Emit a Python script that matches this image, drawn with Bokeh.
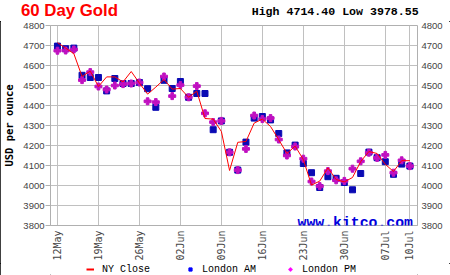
import math
from bokeh.plotting import figure
from bokeh.layouts import column
from bokeh.models import Range1d, FixedTicker, LinearAxis, Label, Legend, LegendItem, Div
from bokeh.embed import file_html
from bokeh.resources import INLINE

# ---- data (weekday index 0 = 12 May) ----
tick_labels = ["12May", "19May", "26May", "02Jun", "09Jun", "16Jun", "23Jun", "30Jun", "07Jul", "10Jul"]
tick_days = [0, 5, 10, 15, 20, 25, 30, 35, 40, 43]

ny_close = [4714.40, 4687, 4659, 4545, 4572, 4495, 4543, 4543, 4518, 4570,
            4512, 4457, 4492, 4530, 4482, 4485, 4441, 4472, 4335, 4332,
            4270, 4075, 4216, 4220, 4312, 4332, 4295, 4229, 4160, 4197,
            4130, 4002, 4022, 4088, 4030, 4018, 4040, 4120, 4170, 4160,
            4106, 4070, 4124, 4124]
london_am = [4697, 4684, 4687, 4551, 4540, 4540, 4473, 4535, 4510, 4510,
             4515, 4484, 4391, 4526, 4485, 4520, 4441, 4460, 4460, 4279,
             4323, 4166, 4077, 4217, 4337, 4345, 4328, 4260, 4163, 4202,
             4110, 4064, 3990, 4044, 4036, 4015, 3978.55, 4060, 4167, 4139,
             4119, 4056, 4107, 4097]
london_pm = [4674, 4675, 4680, 4527, 4567, 4495, 4480, 4500, 4507, 4510,
             4515, 4421, 4417, 4545, 4447, 4502, 4441, 4497, 4361, 4317,
             4323, 4166, 4077, 4183, 4350, 4332, 4337, 4230, 4150, 4195,
             4134, 4020, 3997, 4072, 4026, 4023, 4084, 4121, 4164, 4138,
             4153, 4064, 4126, 4097]
days = list(range(len(ny_close)))
y_ticks = list(range(3800, 4801, 100))

title_text = "60 Day Gold"
hilo_text = "High 4714.40 Low 3978.55"
site_text = "www.kitco.com"
legend_labels = ["NY Close", "London AM", "London PM"]

GRID = "#c0c0c0"
FRAME = "#b0b0b0"
LABEL = "#444444"
RED = "#ff0000"
BLUE = "#0a0ab4"
MAG = "#c010c0"
NAN = float("nan")

HEAD_H = 21
TOP_B = 4
FRAME_H = 202
BOT_B = 36
FOOT_H = 275 - HEAD_H - TOP_B - FRAME_H - BOT_B

# ---- header strip (title + high/low) ----
# title anchored by its right end (x = 118), high/low by its left end (x = 251.7)
title_style = ("position:absolute;display:block;margin:0;padding:0;right:332px;top:3.4px;"
               "white-space:nowrap;text-align:right;font-family:'Liberation Sans',Arial,sans-serif;"
               "font-weight:bold;font-size:16.8px;line-height:16.8px;color:#ff0000;")
hilo_style = ("position:absolute;display:block;margin:0;padding:0;left:251.7px;top:6.1px;"
              "white-space:nowrap;text-align:left;font-family:'Liberation Mono',monospace;"
              "font-weight:bold;font-size:11.6px;line-height:11.6px;color:#000000;")
head_html = (
    '<div style="position:relative;margin:0;padding:0;width:450px;height:%dpx;">'
    '<div style="%s">%s</div>'
    '<div style="%s">%s</div>'
    '</div>' % (HEAD_H, title_style, title_text, hilo_style, hilo_text)
)
head = Div(text=head_html, width=450, height=HEAD_H, margin=0,
           styles={"background-color": "white"})

# ---- main chart ----
p = figure(width=450, height=TOP_B + FRAME_H + BOT_B, output_backend="svg", toolbar_location=None,
           title=None,
           x_range=Range1d(-0.85, 43.93), y_range=Range1d(3800, 4800),
           min_border_left=48, min_border_right=33, min_border_top=TOP_B, min_border_bottom=BOT_B)
p.background_fill_color = "white"
p.border_fill_color = "white"
p.outline_line_color = FRAME

# x axis
xa = p.xaxis[0]
xa.ticker = FixedTicker(ticks=tick_days)
xa.major_label_overrides = {d: l for d, l in zip(tick_days, tick_labels)}
xa.major_label_orientation = math.pi / 2
xa.major_label_text_font = "DejaVu Sans Mono"
xa.major_label_text_font_size = "10px"
xa.major_label_text_color = LABEL
xa.major_label_standoff = 5
xa.major_tick_out = 0
xa.major_tick_in = 0
xa.minor_tick_out = 0
xa.minor_tick_in = 0
xa.axis_line_color = FRAME

# left y axis
ya = p.yaxis[0]
ya.ticker = FixedTicker(ticks=y_ticks)
ya.major_label_text_font = "Liberation Sans"
ya.major_label_text_font_size = "9.5px"
ya.major_label_text_color = LABEL
ya.major_label_standoff = 1
ya.major_tick_out = 5
ya.major_tick_in = 0
ya.major_tick_line_color = FRAME
ya.minor_tick_out = 0
ya.minor_tick_in = 0
ya.axis_line_color = FRAME
ya.axis_label = "USD per ounce"
ya.axis_label_text_font = "DejaVu Sans Mono"
ya.axis_label_text_font_style = "bold"
ya.axis_label_text_font_size = "10.5px"
ya.axis_label_text_color = "black"
ya.axis_label_standoff = 5

# right y axis
ra = LinearAxis(ticker=FixedTicker(ticks=y_ticks))
ra.major_label_text_font = "Liberation Sans"
ra.major_label_text_font_size = "9.5px"
ra.major_label_text_color = LABEL
ra.major_label_standoff = 4
ra.major_tick_out = 0
ra.major_tick_in = 0
ra.minor_tick_out = 0
ra.minor_tick_in = 0
ra.axis_line_color = None
p.add_layout(ra, "right")

p.xgrid.ticker = FixedTicker(ticks=tick_days)
p.ygrid.ticker = FixedTicker(ticks=y_ticks)
p.xgrid.grid_line_color = GRID
p.ygrid.grid_line_color = GRID

# data glyphs
p.scatter(days, london_am, marker="square", size=6, fill_color=BLUE, line_color=BLUE)
p.scatter(days, london_pm, marker="plus", size=7, fill_color=MAG, line_color=MAG)
p.line(days, ny_close, line_color=RED, line_width=1)

p.add_layout(Label(x=247, y=2.5, x_units="screen", y_units="screen", text=site_text,
                   text_font="Liberation Mono", text_font_style="bold", text_font_size="14.8px",
                   text_color="#0000dd", text_baseline="alphabetic"))

# ---- footer strip (legend); its frame is aligned with the chart frame ----
foot = figure(width=450, height=FOOT_H, output_backend="svg", toolbar_location=None,
              title=None, x_axis_location=None, y_axis_location=None,
              x_range=Range1d(0, 1), y_range=Range1d(0, 1),
              min_border_left=0, min_border_right=0, min_border_top=0, min_border_bottom=0)
foot.xgrid.visible = False
foot.ygrid.visible = False
foot.outline_line_color = None
foot.background_fill_color = "white"
foot.border_fill_color = "white"
# legend swatches: one undrawn (NaN) point each, styled like the reference legend
lg_ny = foot.line([NAN, NAN], [NAN, NAN], line_color=RED, line_width=2)
lg_am = foot.scatter([NAN], [NAN], marker="square", fill_color="#0000ff", line_color="#0000ff")
lg_pm = foot.scatter([NAN], [NAN], marker="plus", fill_color="#ff00ff", line_color="#ff00ff")
legend = Legend(items=[LegendItem(label=legend_labels[0], renderers=[lg_ny]),
                       LegendItem(label=legend_labels[1], renderers=[lg_am]),
                       LegendItem(label=legend_labels[2], renderers=[lg_pm])],
                orientation="horizontal", location=(36, 0),
                padding=0, margin=0, spacing=0,
                glyph_width=8, glyph_height=12, label_standoff=8, label_width=84,
                label_height=12,
                label_text_font="Liberation Mono", label_text_font_size="10px",
                label_text_color="black",
                background_fill_alpha=0, border_line_color=None)
foot.add_layout(legend, "center")

page = column(head, p, foot, spacing=0)
page.styles = {"outline": "1px solid black", "outline-offset": "-1px"}

open("out.html", "w").write(file_html(page, INLINE))
